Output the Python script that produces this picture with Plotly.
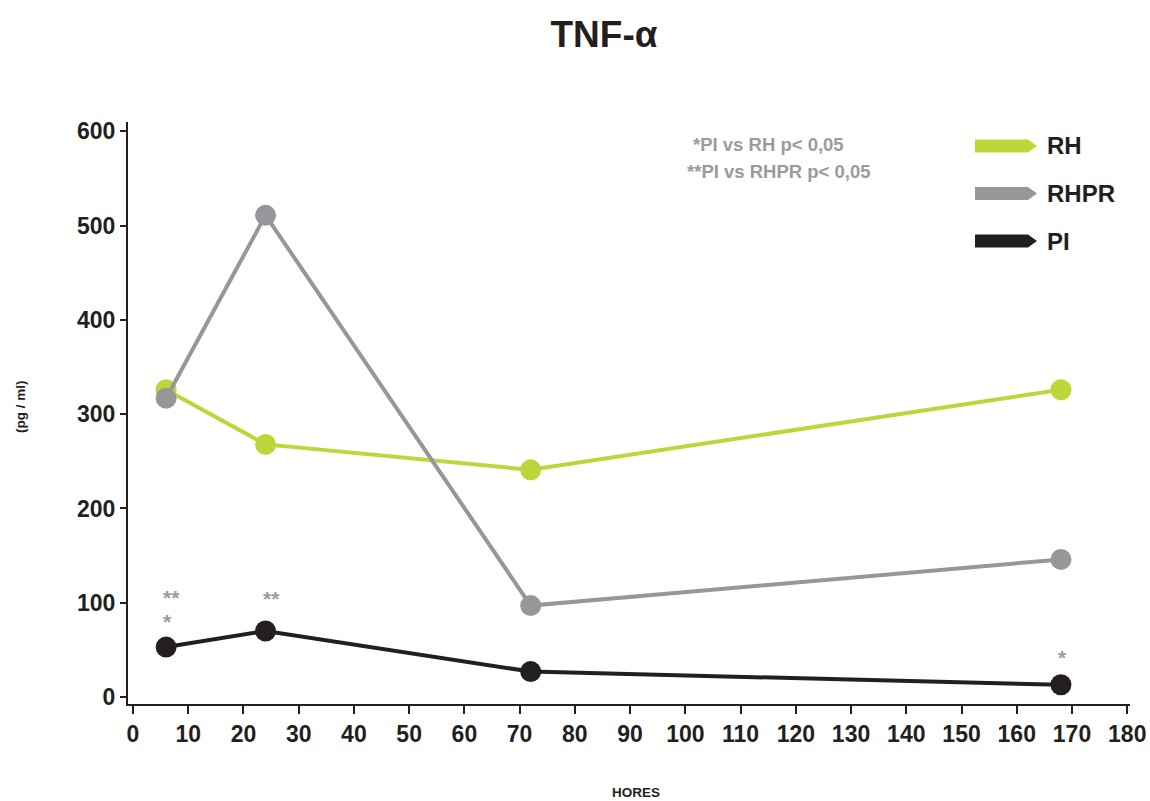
import plotly.graph_objects as go

# Sampling times (hours) and TNF-alpha concentration (pg/ml) per group
hours = [6, 24, 72, 168]
rh = [326, 268, 241, 326]
rhpr = [317, 511, 97, 146]
pi = [53, 70, 27, 13]

series_names = ["RH", "RHPR", "PI"]
series_values = [rh, rhpr, pi]
series_colors = ["#bdd73b", "#97979b", "#231f20"]

x_ticks = list(range(0, 181, 10))
y_ticks = [0, 100, 200, 300, 400, 500, 600]

# Significance marks above the PI curve: (hour, label, value level)
sig_marks = [
    (6, "**<br>*", 92.5),
    (24, "**", 104),
    (168, "*", 42),
]

FONT = "Liberation Sans, Arial, Helvetica, sans-serif"
DARK = "#231f20"
GREY_TXT = "#9b9b9b"

W, H = 1150, 801
ML, MR, MT, MB = 128, 20, 122, 97
PW, PH = W - ML - MR, H - MT - MB


def px_x(v):
    """canvas pixel column -> paper x"""
    return (v - ML) / PW


def px_y(v):
    """canvas pixel row -> paper y"""
    return (H - MB - v) / PH


fig = go.Figure()
for name, vals, col in zip(series_names, series_values, series_colors):
    fig.add_trace(go.Scatter(
        x=hours, y=vals, name=name, mode="lines+markers",
        line=dict(color=col, width=4),
        marker=dict(color=col, size=21),
        showlegend=False,
    ))

annotations = []
for hx, lab, hy in sig_marks:
    lines = lab.split("<br>")
    txt = "<br>".join(f"<span style='font-size:21px'><b>{s}</b></span>" for s in lines)
    annotations.append(dict(
        x=hx, y=hy, xref="x", yref="y", text=txt, showarrow=False,
        font=dict(family=FONT, size=18.2, color=GREY_TXT),
        xanchor="left", yanchor="middle", align="left", xshift=-5,
    ))

# p-value notes
annotations.append(dict(text="<b>*PI vs RH p< 0,05</b>", x=px_x(768), y=px_y(145),
                        xref="paper", yref="paper", showarrow=False,
                        xanchor="center", yanchor="middle",
                        font=dict(family=FONT, size=18.5, color=GREY_TXT)))
annotations.append(dict(text="<b>**PI vs RHPR p< 0,05</b>", x=px_x(779), y=px_y(171),
                        xref="paper", yref="paper", showarrow=False,
                        xanchor="center", yanchor="middle",
                        font=dict(family=FONT, size=18.5, color=GREY_TXT)))

# Legend: arrow-shaped swatches with labels
shapes = []
leg_y = [146, 193.5, 241]
for name, col, cy in zip(series_names, series_colors, leg_y):
    x0, x1, xt = 975, 1028, 1037
    y0, y1 = cy - 6.5, cy + 6.5
    pts = [(x0, y0), (x1, y0), (xt, cy), (x1, y1), (x0, y1)]
    path = "M " + " L ".join(f"{px_x(a)},{px_y(b)}" for a, b in pts) + " Z"
    shapes.append(dict(type="path", xref="paper", yref="paper", path=path,
                       fillcolor=col, line=dict(width=0)))
    annotations.append(dict(text=f"<b>{name}</b>", x=px_x(1045), y=px_y(cy),
                            xref="paper", yref="paper", showarrow=False,
                            xanchor="left", yanchor="middle",
                            font=dict(family=FONT, size=24, color=DARK)))

# Axis titles
annotations.append(dict(text="<b>(pg / ml)</b>", x=px_x(20), y=px_y(407),
                        xref="paper", yref="paper", showarrow=False, textangle=-90,
                        xanchor="center", yanchor="middle",
                        font=dict(family=FONT, size=13.5, color=DARK)))
annotations.append(dict(text="<b>HORES</b>", x=px_x(636), y=px_y(792),
                        xref="paper", yref="paper", showarrow=False,
                        xanchor="center", yanchor="middle",
                        font=dict(family=FONT, size=13.5, color=DARK)))

fig.update_layout(
    width=W, height=H,
    margin=dict(l=ML, r=MR, t=MT, b=MB, autoexpand=False),
    paper_bgcolor="white", plot_bgcolor="white",
    font=dict(family=FONT, color=DARK),
    title=dict(text="<b>TNF-α</b>", x=604 / W, xanchor="center", y=1 - 34 / H,
               yanchor="middle", font=dict(family=FONT, size=37, color=DARK)),
    annotations=annotations,
    shapes=shapes,
    xaxis=dict(
        range=[-0.9, 180.5], tickvals=x_ticks,
        ticktext=[f"<b>{t}</b>" for t in x_ticks],
        showgrid=False, zeroline=False, showline=True, linecolor=DARK, linewidth=2,
        ticks="outside", ticklen=8, tickwidth=2, tickcolor=DARK,
        tickfont=dict(family=FONT, size=23, color=DARK), automargin=False,
    ),
    yaxis=dict(
        range=[-7.4, 610], tickvals=y_ticks,
        ticktext=[f"<b>{t}</b>" for t in y_ticks],
        showgrid=False, zeroline=False, showline=True, linecolor=DARK, linewidth=2,
        ticks="outside", ticklen=6, tickwidth=2, tickcolor=DARK,
        tickfont=dict(family=FONT, size=23, color=DARK), automargin=False,
    ),
)

fig.write_html("out.html")
